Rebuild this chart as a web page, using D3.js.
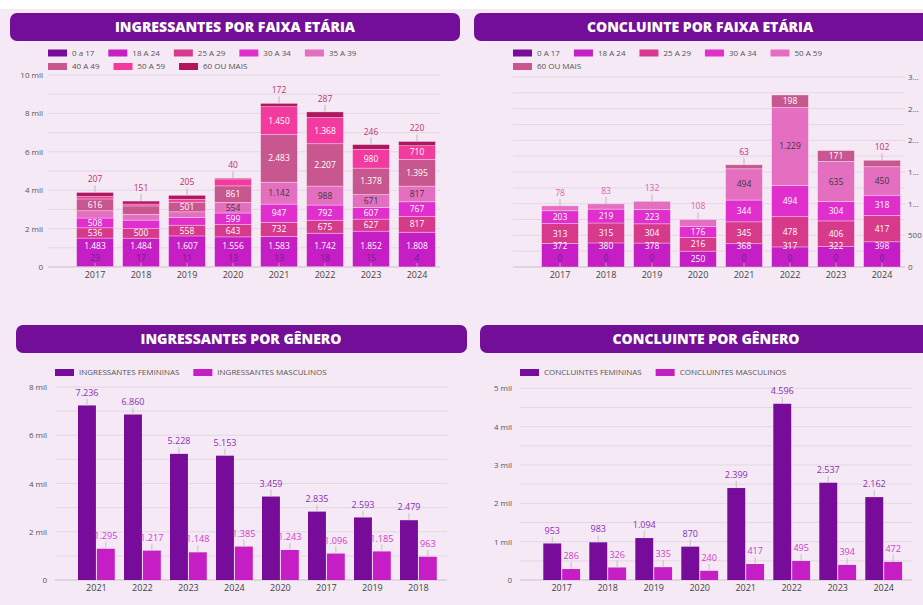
<!DOCTYPE html>
<html>
<head>
<meta charset="utf-8">
<script src="https://cdn.jsdelivr.net/npm/d3@7"></script>
<style>
  body { margin: 0; background: #f4e9f4; }
  svg text { font-family: "Open Sans", "Noto Sans", sans-serif; }
</style>
</head>
<body>
<div id="drawing"></div>
<script>
// ---- data ----
const anos = ["2017", "2018", "2019", "2020", "2021", "2022", "2023", "2024"];

// ingressantes por faixa etaria
const faixasIngressantes = ["0 a 17", "18 A 24", "25 A 29", "30 A 34", "35 A 39", "40 A 49", "50 A 59", "60 OU MAIS"];
const ing0a17   = [23, 17, 11, 13, 13, 18, 15, 4];
const ing18a24  = [1483, 1484, 1607, 1556, 1583, 1742, 1852, 1808];
const ing25a29  = [536, 500, 558, 643, 732, 675, 627, 817];
const ing30a34  = [508, 440, 400, 599, 947, 792, 607, 767];
const ing35a39  = [380, 300, 300, 554, 1142, 988, 671, 817];
const ing40a49  = [616, 440, 501, 861, 2483, 2207, 1378, 1395];
const ing50a59  = [130, 100, 150, 360, 1450, 1368, 980, 710];
const ing60mais = [207, 151, 205, 40, 172, 287, 246, 220];

// concluintes por faixa etaria (null = sem registro)
const faixasConcluintes = ["0 A 17", "18 A 24", "25 A 29", "30 A 34", "50 A 59", "60 OU MAIS"];
const con0a17   = [0, 0, 0, null, 0, 0, 0, 0];
const con18a24  = [372, 380, 378, 250, 368, 317, 322, 398];
const con25a29  = [313, 315, 304, 216, 345, 478, 406, 417];
const con30a34  = [203, 219, 223, 176, 344, 494, 304, 318];
const con50a59  = [78, 83, 132, 108, 494, 1229, 635, 450];
const con60mais = [0, 0, 0, 0, 63, 198, 171, 102];

// ingressantes por genero (ordenado pelo feminino)
const anosIngGenero = ["2021", "2022", "2023", "2024", "2020", "2017", "2019", "2018"];
const ingFemininas  = [7236, 6860, 5228, 5153, 3459, 2835, 2593, 2479];
const ingMasculinos = [1295, 1217, 1148, 1385, 1243, 1096, 1185, 963];

// concluintes por genero
const conFemininas  = [953, 983, 1094, 870, 2399, 4596, 2537, 2162];
const conMasculinos = [286, 326, 335, 240, 417, 495, 394, 472];

// ---- look ----
const palette = ["#780c9a", "#c41ec4", "#d83a8b", "#e02fcd", "#e46fc1", "#c8578f", "#f23a9f", "#b0175f"];
const bannerColor = "#720e98";
const gridColor = "#e2d8e2";
const textColor = "#555";

const ptBR = d3.formatLocale({decimal: ",", thousands: ".", grouping: [3], currency: ["R$", ""]});
const fmt = ptBR.format(",d");
const milFmt = d => d === 0 ? "0" : (d / 1000) + " mil";
const cutFmt = d => { let s = fmt(d); return s.length > 3 ? s[0] + "..." : s; };

const svg = d3.select("#drawing").append("svg")
  .attr("width", 923)
  .attr("height", 605);

svg.append("rect").attr("width", 923).attr("height", 605).attr("fill", "#f4e9f4");
svg.append("rect").attr("width", 923).attr("height", 9).attr("fill", "#ffffff");

function banner(b, title) {
  svg.append("rect")
    .attr("x", b.x).attr("y", b.y)
    .attr("width", b.w).attr("height", 28)
    .attr("rx", 7)
    .attr("fill", bannerColor);
  svg.append("text")
    .attr("x", b.cx).attr("y", b.y + 14)
    .attr("dy", "0.36em")
    .attr("text-anchor", "middle")
    .attr("fill", "#fff")
    .style("font-size", "14px")
    .style("font-weight", 800)
    .text(title);
}

function legend(l, names, colors) {
  let x = l.x, y = l.y;
  names.forEach((name, i) => {
    const g = svg.append("g");
    g.append("rect")
      .attr("x", x).attr("y", y - 3.5)
      .attr("width", 19).attr("height", 7)
      .attr("fill", colors[i]);
    const t = g.append("text")
      .attr("x", x + 24).attr("y", y)
      .attr("dy", "0.35em")
      .attr("fill", textColor)
      .style("font-size", "8px")
      .text(name);
    const w = t.node().getComputedTextLength();
    if (x + 24 + w > l.x + l.maxW) {
      // move to next row
      x = l.x; y += 13.5;
      g.select("rect").attr("x", x).attr("y", y - 3.5);
      t.attr("x", x + 24).attr("y", y);
    }
    x += 24 + w + 14;
  });
}

function grid(p, yScale) {
  svg.append("g").selectAll("line")
    .data(d3.range(0, p.yMax + 1, p.gridStep))
    .join("line")
      .attr("x1", p.gridX[0]).attr("x2", p.gridX[1])
      .attr("y1", d => yScale(d)).attr("y2", d => yScale(d))
      .attr("stroke", d => d === 0 ? "#c9bfc9" : gridColor)
      .attr("stroke-width", 1);

  const axis = (p.axisSide === "right" ? d3.axisRight(yScale) : d3.axisLeft(yScale))
    .tickValues(d3.range(0, p.yMax + 1, p.tickStep))
    .tickSize(0)
    .tickPadding(p.axisPad)
    .tickFormat(p.tickFmt);
  const ya = svg.append("g")
    .attr("transform", `translate(${p.axisX},0)`)
    .call(axis);
  ya.select(".domain").remove();
  ya.selectAll("text").attr("fill", textColor).style("font-size", "8px");
}

function xAxis(xScale, y0) {
  const xa = svg.append("g")
    .attr("transform", `translate(0,${y0})`)
    .call(d3.axisBottom(xScale).tickSize(0).tickPadding(5));
  xa.select(".domain").remove();
  xa.selectAll("text").attr("fill", "#444").style("font-size", "9px");
}

function drawStacked(p) {
  banner(p.banner, p.title);
  legend(p.legend, p.names, palette);

  const rows = anos.map((a, i) => {
    const r = {ano: a};
    p.series.forEach((s, k) => r[k] = s[i] || 0);
    return r;
  });
  const keys = p.series.map((s, k) => k);
  const stacked = d3.stack().keys(keys)(rows);

  const x = d3.scaleBand().domain(anos).range(p.xRange).paddingInner(0.2).paddingOuter(0.1);
  const y = d3.scaleLinear().domain([0, p.yMax]).range([p.y0, p.y1]);

  grid(p, y);

  const g = svg.append("g");
  stacked.forEach((layer, k) => {
    g.selectAll(".seg" + k)
      .data(layer)
      .join("rect")
        .attr("class", "seg" + k)
        .attr("x", d => x(d.data.ano))
        .attr("width", x.bandwidth())
        .attr("y", d => y(d[1]))
        .attr("height", d => y(d[0]) - y(d[1]))
        .attr("fill", palette[k])
        .attr("stroke", "rgba(255,255,255,0.45)")
        .attr("stroke-width", 0.7);
  });

  // labels
  const lab = svg.append("g").style("font-size", "8.5px");
  anos.forEach((a, i) => {
    const cx = x(a) + x.bandwidth() / 2;
    const base = y(0);
    const hasBottom = p.series[0][i] !== null;
    let topK = -1;
    keys.forEach(k => { if (p.series[k][i] > 0) topK = k; });
    keys.forEach(k => {
      const d = stacked[k][i];
      const v = p.series[k][i];
      const h = y(d[0]) - y(d[1]);
      if (k === 0) {
        if (!hasBottom) return;
        // tiny first band: label near the bottom with a short leader
        lab.append("line")
          .attr("x1", cx).attr("x2", cx)
          .attr("y1", base).attr("y2", base - 4)
          .attr("stroke", "#b9a0c0");
        lab.append("text")
          .attr("x", cx).attr("y", base - 9)
          .attr("dy", "0.35em").attr("text-anchor", "middle")
          .attr("fill", "#6a2388")
          .text(fmt(v));
        return;
      }
      if (!(v > 0)) return;
      if (h >= 9) {
        let cy = (y(d[0]) + y(d[1])) / 2;
        if (k === 1 && hasBottom) cy = Math.min(cy, base - 21);
        lab.append("text")
          .attr("x", cx).attr("y", cy)
          .attr("dy", "0.35em").attr("text-anchor", "middle")
          .attr("fill", k === 4 ? "#3a3a3a" : "#fff")
          .text(fmt(v));
      } else if (k === topK) {
        const top = y(d[1]);
        lab.append("line")
          .attr("x1", cx).attr("x2", cx)
          .attr("y1", top).attr("y2", top - 7)
          .attr("stroke", "#c4b4c4");
        lab.append("text")
          .attr("x", cx).attr("y", top - 13)
          .attr("dy", "0.35em").attr("text-anchor", "middle")
          .attr("fill", k === 4 ? "#e060b4" : "#c0306f")
          .text(fmt(v));
      }
    });
  });

  xAxis(x, p.y0);
}

function drawGrouped(p) {
  banner(p.banner, p.title);
  legend(p.legend, p.names, [palette[0], palette[1]]);

  const x = d3.scaleBand().domain(p.cats).range(p.xRange).paddingInner(0.2).paddingOuter(0.1);
  const xs = d3.scaleBand().domain([0, 1]).range([0, x.bandwidth()]).paddingInner(0.05);
  const y = d3.scaleLinear().domain([0, p.yMax]).range([p.y0, p.y1]);

  grid(p, y);

  const labelColors = ["#8a2fb8", "#d03ccc"];
  [p.fem, p.masc].forEach((vals, k) => {
    const data = p.cats.map((c, i) => ({c: c, v: vals[i]}));
    svg.append("g").selectAll("rect")
      .data(data)
      .join("rect")
        .attr("x", d => x(d.c) + xs(k))
        .attr("width", xs.bandwidth())
        .attr("y", d => y(d.v))
        .attr("height", d => y(0) - y(d.v))
        .attr("fill", palette[k]);

    const lg = svg.append("g");
    lg.selectAll("line")
      .data(data)
      .join("line")
        .attr("x1", d => x(d.c) + xs(k) + xs.bandwidth() / 2)
        .attr("x2", d => x(d.c) + xs(k) + xs.bandwidth() / 2)
        .attr("y1", d => y(d.v))
        .attr("y2", d => y(d.v) - 7)
        .attr("stroke", "#c9bfc9");
    lg.selectAll("text")
      .data(data)
      .join("text")
        .attr("x", d => x(d.c) + xs(k) + xs.bandwidth() / 2)
        .attr("y", d => y(d.v) - 13)
        .attr("dy", "0.35em")
        .attr("text-anchor", "middle")
        .attr("fill", labelColors[k])
        .style("font-size", "9px")
        .text(d => fmt(d.v));
  });

  xAxis(x, p.y0);
}

drawStacked({
  title: "INGRESSANTES POR FAIXA ETÁRIA",
  banner: {x: 10, y: 13, w: 450, cx: 235},
  legend: {x: 48, y: 53, maxW: 370},
  names: faixasIngressantes,
  series: [ing0a17, ing18a24, ing25a29, ing30a34, ing35a39, ing40a49, ing50a59, ing60mais],
  xRange: [72, 440],
  yMax: 10000, y0: 267, y1: 75,
  gridStep: 1000, tickStep: 2000,
  gridX: [48, 440],
  axisSide: "left", axisX: 48, axisPad: 5, tickFmt: milFmt
});

drawStacked({
  title: "CONCLUINTE POR FAIXA ETÁRIA",
  banner: {x: 474, y: 13, w: 470, cx: 700},
  legend: {x: 513, y: 53, maxW: 370},
  names: faixasConcluintes,
  series: [con0a17, con18a24, con25a29, con30a34, con50a59, con60mais],
  xRange: [537, 905],
  yMax: 3000, y0: 267, y1: 77,
  gridStep: 250, tickStep: 500,
  gridX: [513, 905],
  axisSide: "right", axisX: 905, axisPad: 3, tickFmt: cutFmt
});

drawGrouped({
  title: "INGRESSANTES POR GÊNERO",
  banner: {x: 16, y: 325, w: 451, cx: 241},
  legend: {x: 55, y: 372.5, maxW: 400},
  names: ["INGRESSANTES FEMININAS", "INGRESSANTES MASCULINOS"],
  cats: anosIngGenero,
  fem: ingFemininas, masc: ingMasculinos,
  xRange: [73.4, 441.4],
  yMax: 8000, y0: 580, y1: 387,
  gridStep: 1000, tickStep: 2000,
  gridX: [55, 447],
  axisSide: "left", axisX: 55, axisPad: 8, tickFmt: milFmt
});

drawGrouped({
  title: "CONCLUINTE POR GÊNERO",
  banner: {x: 480, y: 325, w: 470, cx: 706},
  legend: {x: 520, y: 372.5, maxW: 400},
  names: ["CONCLUINTES FEMININAS", "CONCLUINTES MASCULINOS"],
  cats: anos,
  fem: conFemininas, masc: conMasculinos,
  xRange: [538.7, 906.7],
  yMax: 5000, y0: 580, y1: 388.3,
  gridStep: 500, tickStep: 1000,
  gridX: [520, 912],
  axisSide: "left", axisX: 520, axisPad: 8, tickFmt: milFmt
});
</script>
</body>
</html>
